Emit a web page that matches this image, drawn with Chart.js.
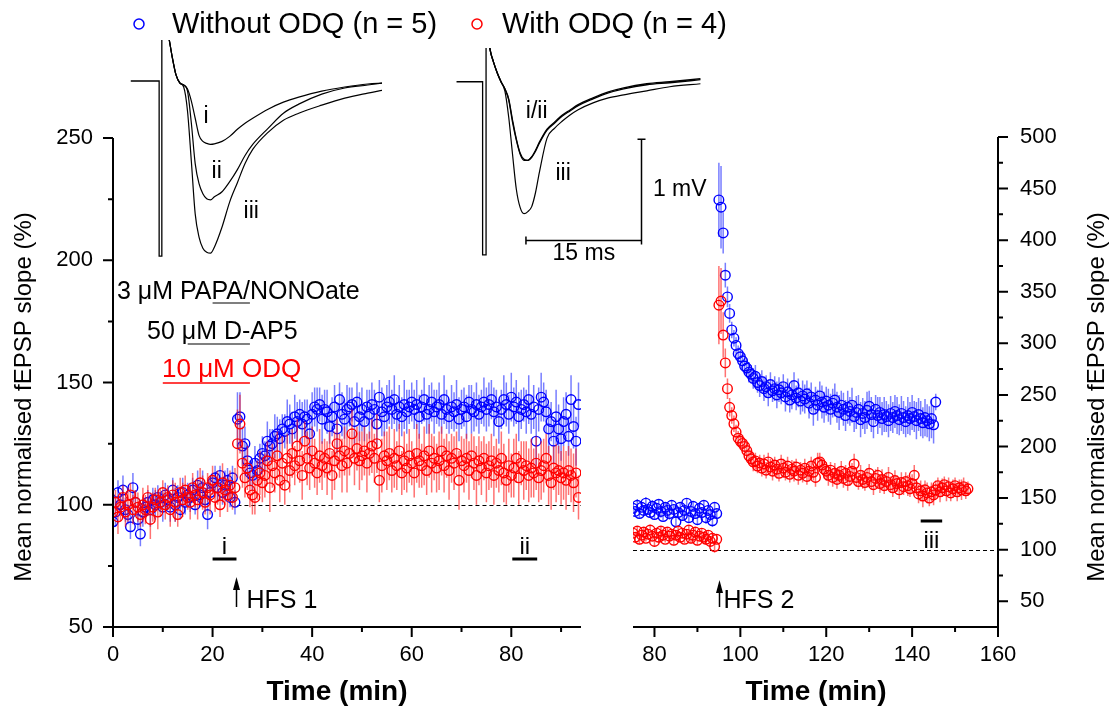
<!DOCTYPE html>
<html>
<head>
<meta charset="utf-8">
<title>fEPSP slope – PAPA/NONOate, D-AP5, ODQ</title>
<script src="https://cdn.jsdelivr.net/npm/chart.js@4.4.1/dist/chart.umd.min.js"></script>
<style>
  body { margin: 0; background: #fff; }
  #wrap { position: relative; width: 1117px; height: 708px; overflow: hidden; background: #fff; }
  #wrap canvas { position: absolute; }
</style>
</head>
<body>
<div id="wrap">
  <canvas id="leftChart" width="1117" height="708" style="left:0;top:0"></canvas>
  <canvas id="rightChart" width="1117" height="708" style="left:0;top:0"></canvas>
  <canvas id="inset1" width="252" height="220" style="left:130px;top:40px"></canvas>
  <canvas id="inset2" width="330" height="230" style="left:455px;top:48px"></canvas>
</div>
<script>
// ============================================================
// fEPSP slope time course with two HFS epochs + sample traces
// ============================================================

const FONT = "'Liberation Sans', Arial, Helvetica, sans-serif";
const BIN = 0.5; // min between averaged responses

const BLUE = '#0000ff';
const RED = '#ff0000';
const BLUE_ERR = 'rgba(30, 40, 255, 0.6)';
const RED_ERR = 'rgba(255, 20, 20, 0.6)';

// ---- first epoch (0–93.5 min), % of baseline ----
const leftStart = 0;
const blueLeft = [
  93, 97, 105, 100, 106, 98, 96, 91, 107, 101, 94,
  88, 97, 99, 101, 98, 102, 100, 103, 101, 99,
  104, 102, 99, 106, 100, 103, 98, 105, 101, 104,
  103, 106, 100, 108, 104, 107, 102, 96, 105, 109,
  111, 107, 112, 105, 108, 110, 103, 111, 101, 135,
  136, 124, 125, 118, 113, 112, 117, 114, 119, 121,
  120, 126, 124, 125, 128, 129, 127, 131, 130, 134,
  133, 131, 136, 134, 137, 133, 136, 135, 129, 137,
  140, 139, 141, 135, 139, 138, 132, 136, 140, 131,
  143, 137, 135, 139, 140, 141, 134, 142, 136, 139,
  134, 140, 137, 141, 139, 133, 144, 138, 136, 140,
  142, 139, 143, 137, 140, 136, 141, 138, 140, 142,
  139, 141, 136, 140, 143, 137, 139, 142, 138, 140,
  141, 137, 143, 139, 136, 140, 138, 141, 135, 139,
  140, 136, 142, 139, 138, 141, 137, 140, 142, 139,
  141, 143, 138, 140, 134, 139, 143, 141, 137, 144,
  140, 142, 136, 139, 141, 138, 143, 137, 140, 126,
  139, 144, 142, 138, 131, 134, 126, 136, 131, 127,
  134, 137, 128, 143, 132, 126, 141
];
const blueLeftErr = [
  5, 6, 5, 4, 6, 5, 4, 5, 6, 5, 4,
  5, 6, 4, 5, 7, 5, 6, 5, 4, 6,
  5, 4, 6, 5, 7, 5, 4, 6, 5, 5,
  6, 5, 4, 6, 5, 7, 5, 6, 5, 4,
  5, 6, 4, 5, 6, 5, 4, 5, 5, 11,
  10, 8, 7, 6, 5, 6, 7, 5, 6, 7,
  6, 8, 7, 6, 9, 7, 8, 6, 7, 9,
  8, 7, 9, 8, 6, 9, 7, 8, 10, 9,
  8, 9, 7, 10, 8, 9, 7, 8, 9, 10,
  7, 9, 8, 10, 8, 7, 9, 8, 10, 9,
  8, 7, 10, 9, 8, 9, 7, 10, 8, 9,
  9, 8, 10, 7, 9, 8, 10, 9, 7, 8,
  8, 10, 9, 7, 9, 8, 10, 8, 9, 7,
  9, 8, 10, 8, 7, 9, 8, 10, 9, 8,
  8, 9, 7, 10, 8, 9, 8, 7, 10, 9,
  9, 8, 10, 7, 9, 8, 10, 9, 8, 10,
  8, 9, 10, 8, 7, 9, 10, 8, 9, 10,
  9, 10, 8, 9, 10, 8, 9, 11, 10, 9,
  10, 9, 8, 10, 9, 10, 9
];
const redLeft = [
  97, 101, 95, 99, 103, 97, 100, 104, 98, 101, 99,
  96, 100, 98, 103, 94, 99, 102, 97, 101, 105,
  100, 103, 98, 104, 101, 96, 105, 102, 106, 103,
  101, 107, 104, 102, 109, 105, 101, 107, 104, 110,
  103, 107, 100, 109, 106, 104, 108, 103, 107, 125,
  133, 117, 111, 115, 106, 104, 103, 110, 113, 109,
  112, 118, 107, 116, 113, 120, 110, 117, 108, 119,
  114, 121, 116, 124, 118, 112, 126, 119, 115, 122,
  117, 113, 120, 116, 119, 115, 121, 112, 118, 125,
  120, 116, 122, 117, 121, 129, 119, 123, 118, 120,
  122, 117, 121, 124, 119, 125, 110, 116, 120, 118,
  121, 114, 119, 116, 122, 113, 118, 115, 120, 117,
  113, 121, 118, 116, 120, 114, 122, 117, 119, 115,
  118, 122, 116, 120, 114, 119, 117, 121, 110, 118,
  116, 119, 114, 120, 117, 112, 118, 115, 119, 113,
  116, 118, 112, 117, 114, 119, 113, 110, 116, 112,
  115, 119, 111, 117, 114, 116, 112, 115, 113, 117,
  111, 114, 116, 119, 112, 109, 115, 113, 114, 111,
  113, 110, 114, 112, 109, 113, 103
];
const redLeftErr = [
  6, 5, 7, 6, 5, 6, 7, 5, 6, 5, 6,
  5, 7, 6, 5, 8, 6, 5, 7, 6, 5,
  6, 5, 7, 6, 8, 5, 6, 7, 6, 5,
  7, 6, 5, 8, 6, 7, 5, 6, 8, 6,
  6, 7, 5, 8, 6, 7, 6, 5, 8, 14,
  12, 10, 8, 9, 7, 8, 7, 8, 9, 8,
  9, 8, 10, 9, 8, 10, 9, 11, 8, 10,
  9, 10, 8, 11, 9, 10, 8, 11, 9, 10,
  10, 9, 11, 10, 8, 11, 9, 10, 12, 10,
  9, 11, 10, 12, 9, 10, 11, 9, 12, 10,
  10, 12, 9, 11, 10, 12, 9, 11, 10, 12,
  11, 9, 12, 10, 11, 9, 12, 10, 11, 9,
  10, 12, 11, 9, 12, 10, 11, 12, 9, 10,
  12, 10, 11, 9, 12, 10, 11, 9, 12, 10,
  11, 10, 12, 9, 11, 12, 10, 11, 9, 12,
  10, 11, 12, 10, 9, 11, 12, 10, 11, 9,
  12, 10, 11, 9, 12, 10, 11, 12, 10, 11,
  10, 12, 11, 10, 12, 11, 9, 12, 10, 11,
  11, 12, 10, 11, 12, 10, 9
];

// ---- second epoch: pre-HFS 2 (75–94.5 min) and post-HFS 2 (from 95 min) ----
const preStart = 75;
const postStart = 95;
const bluePre = [
  140, 137, 143, 135, 141, 138, 145, 139, 136, 142,
  134, 140, 144, 137, 132, 141, 138, 135, 143, 139,
  127, 136, 141, 133, 138, 145, 131, 137, 142, 135,
  129, 140, 136, 143, 131, 138, 134, 128, 141, 135
];
const bluePreErr = [
  5, 4, 6, 5, 4, 5, 6, 4, 5, 6,
  5, 4, 5, 6, 4, 5, 4, 6, 5, 4,
  6, 5, 4, 5, 6, 4, 5, 6, 5, 4,
  5, 6, 4, 5, 6, 5, 4, 6, 5, 4
];
const redPre = [
  116, 112, 118, 110, 114, 117, 111, 115, 119, 113,
  108, 116, 112, 118, 114, 110, 117, 113, 115, 109,
  114, 118, 112, 116, 110, 115, 119, 111, 114, 117,
  109, 113, 116, 112, 110, 114, 108, 111, 103, 110
];
const redPreErr = [
  4, 5, 4, 5, 4, 5, 3, 4, 5, 4,
  5, 4, 5, 4, 5, 3, 4, 5, 4, 5,
  4, 5, 4, 5, 4, 5, 4, 5, 3, 4,
  5, 4, 5, 4, 5, 4, 5, 4, 6, 4
];
const bluePost = [
  439, 432, 407, 366, 345, 329, 313, 305, 298, 290,
  287, 283, 278, 276, 272, 270, 266, 268, 262, 259,
  263, 256, 258, 252, 260, 254, 256, 250, 255, 252,
  258, 248, 253, 245, 250, 259, 247, 252, 244, 249,
  246, 251, 242, 248, 236, 245, 240, 249, 243, 238,
  244, 240, 236, 242, 245, 238, 233, 240, 236, 230,
  238, 234, 240, 229, 233, 236, 226, 232, 228, 235,
  239, 231, 224, 236, 230, 233, 227, 231, 229, 225,
  232, 228, 234, 230, 226, 232, 228, 224, 230, 227,
  233, 229, 225, 231, 227, 223, 228, 225, 222, 227,
  221, 243
];
const bluePostErr = [
  36, 40, 20, 12, 10, 9, 8, 8, 8, 8,
  8, 9, 8, 9, 10, 9, 10, 11, 10, 11,
  11, 12, 11, 13, 12, 11, 12, 13, 12, 11,
  12, 14, 13, 12, 14, 13, 12, 14, 13, 15,
  14, 13, 15, 14, 16, 13, 15, 14, 16, 15,
  14, 16, 15, 14, 16, 15, 17, 14, 16, 15,
  16, 14, 17, 15, 16, 14, 17, 15, 16, 18,
  15, 17, 16, 14, 18, 15, 16, 17, 15, 16,
  17, 15, 16, 18, 15, 17, 16, 15, 18, 16,
  17, 15, 18, 16, 17, 15, 18, 16, 17, 19,
  18, 8
];
const redPost = [
  337, 341, 308, 281, 256, 238, 230, 222, 214, 208,
  205, 203, 200, 196, 191, 188, 185, 186, 181, 184,
  179, 183, 177, 185, 180, 176, 182, 178, 174, 183,
  179, 175, 181, 173, 178, 176, 180, 172, 177, 174,
  179, 171, 176, 181, 175, 170, 184, 185, 182, 178,
  176, 172, 177, 170, 174, 168, 172, 176, 169, 174,
  167, 171, 176, 183, 170, 166, 172, 168, 165, 170,
  174, 166, 163, 169, 172, 164, 168, 162, 166, 170,
  163, 160, 167, 164, 158, 165, 161, 166, 162, 159,
  164, 172, 160, 154, 157, 152, 158, 155, 150, 156,
  153, 158, 162, 156, 160, 163, 157, 161, 155, 159,
  162, 156, 160, 158, 161, 157, 159
];
const redPostErr = [
  38, 32, 22, 14, 10, 9, 8, 8, 7, 7,
  7, 8, 7, 8, 7, 8, 9, 8, 7, 8,
  8, 9, 8, 9, 8, 9, 8, 9, 8, 9,
  9, 8, 9, 8, 9, 10, 8, 9, 8, 9,
  9, 8, 10, 9, 8, 9, 10, 9, 8, 9,
  9, 10, 8, 9, 10, 9, 8, 10, 9, 8,
  10, 9, 8, 10, 9, 8, 10, 9, 8, 9,
  9, 8, 10, 9, 8, 9, 10, 8, 9, 10,
  8, 9, 10, 8, 9, 10, 8, 9, 10, 8,
  9, 10, 8, 9, 10, 11, 9, 10, 8, 9,
  10, 9, 8, 10, 9, 8, 10, 9, 8, 9,
  8, 9, 8, 10, 9, 8, 7
];

// ---- sample fEPSP traces (ms, mV) ----
const stim1Time = [0.1, 3.8, 3.8, 4.15, 4.15];
const stim1Val = [0, 0, -1.74, -1.74, 0.6];
const trace1Time = [4.15, 5.0, 5.5, 6.0, 6.5, 7.0, 7.5, 8.0, 8.5, 9.0, 9.5, 10.0, 10.5, 11, 12, 13, 14, 15, 16, 18, 20, 22, 25, 28, 31, 33];
const trace1i = [0.6, 0.45, 0.24, 0.06, -0.02, -0.04, -0.08, -0.2, -0.37, -0.54, -0.6, -0.62, -0.63, -0.625, -0.6, -0.55, -0.48, -0.42, -0.37, -0.28, -0.21, -0.16, -0.1, -0.06, -0.03, -0.02];
const trace1ii = [0.6, 0.45, 0.24, 0.06, -0.02, -0.04, -0.1, -0.42, -0.82, -1.02, -1.12, -1.17, -1.18, -1.15, -1.1, -1.0, -0.88, -0.74, -0.63, -0.47, -0.32, -0.23, -0.13, -0.07, -0.04, -0.02];
const trace1iii = [0.6, 0.45, 0.24, 0.06, -0.02, -0.06, -0.3, -0.8, -1.32, -1.55, -1.66, -1.7, -1.71, -1.65, -1.45, -1.2, -1.01, -0.82, -0.68, -0.51, -0.39, -0.32, -0.24, -0.17, -0.12, -0.09];

const stim2Time = [0.2, 3.6, 3.6, 4.05, 4.05];
const stim2Val = [0, 0, -1.72, -1.72, 0.6];
const trace2Time = [4.05, 4.6, 5.0, 5.5, 6.0, 6.5, 7.0, 7.5, 8.0, 8.5, 9.0, 9.5, 10, 10.5, 11, 12, 13, 14, 15, 16, 18, 20, 22, 25, 28, 32];
const trace2i = [0.6, 0.31, 0.2, 0.09, 0.0, -0.07, -0.18, -0.4, -0.58, -0.72, -0.78, -0.78, -0.745, -0.68, -0.6, -0.47, -0.4, -0.33, -0.28, -0.23, -0.16, -0.1, -0.06, -0.02, 0.0, 0.03];
const trace2ii = [0.6, 0.31, 0.2, 0.09, 0.0, -0.07, -0.17, -0.38, -0.57, -0.71, -0.77, -0.78, -0.75, -0.69, -0.61, -0.48, -0.41, -0.34, -0.29, -0.24, -0.17, -0.11, -0.07, -0.03, -0.01, 0.02];
const trace2iii = [0.6, 0.31, 0.2, 0.09, 0.0, -0.09, -0.35, -0.72, -1.07, -1.25, -1.31, -1.29, -1.24, -1.1, -0.9, -0.56, -0.46, -0.39, -0.33, -0.28, -0.21, -0.16, -0.13, -0.09, -0.05, -0.02];

// ------------------------------------------------------------
// helpers
// ------------------------------------------------------------
function binned(start, values) {
  return values.map((v, i) => ({ x: start + i * BIN, y: v }));
}

function pairs(xs, ys) {
  return xs.map((x, i) => ({ x, y: ys[i] }));
}

function pointSet(data, errors, color, errColor) {
  return {
    data, errors, errColor,
    borderColor: color,
    backgroundColor: 'rgba(0,0,0,0)',
    pointStyle: 'circle',
    pointRadius: 4.8,
    pointBorderWidth: 1.4,
    showLine: false,
  };
}

// vertical SEM bars, drawn just before each dataset's own markers
const errorBars = {
  id: 'errorBars',
  beforeDatasetDraw(chart, args) {
    const ds = chart.data.datasets[args.index];
    if (!ds.errors) return;
    const yScale = chart.scales[args.meta.yAxisID];
    const { ctx, chartArea: a } = chart;
    ctx.save();
    ctx.beginPath();
    ctx.rect(a.left, a.top, a.right - a.left, a.bottom - a.top);
    ctx.clip();
    ctx.strokeStyle = ds.errColor;
    ctx.lineWidth = 1.5;
    ctx.beginPath();
    args.meta.data.forEach((pt, i) => {
      const v = ds.data[i].y, e = ds.errors[i] || 0;
      ctx.moveTo(pt.x, yScale.getPixelForValue(v + e));
      ctx.lineTo(pt.x, yScale.getPixelForValue(v - e));
    });
    ctx.stroke();
    ctx.restore();
  }
};

// axis lines plus major / minor tick marks
const axisFrame = {
  id: 'axisFrame',
  afterDraw(chart, args, o) {
    const { ctx, chartArea: a } = chart;
    const xs = chart.scales.x, ys = chart.scales.y;
    const yEdge = o.ySide === 'left' ? a.left : a.right;
    const dir = o.ySide === 'left' ? -1 : 1;
    ctx.save();
    ctx.strokeStyle = '#000';
    ctx.lineWidth = 2;
    ctx.beginPath();
    ctx.moveTo(a.left - (o.ySide === 'left' ? 1 : 0), a.bottom);
    ctx.lineTo(a.right + (o.ySide === 'right' ? 1 : 0), a.bottom);
    ctx.moveTo(yEdge, a.top);
    ctx.lineTo(yEdge, a.bottom);
    for (let v = o.xFirst, k = 0; v <= xs.max + 1e-6; v += o.xStep / 2, k++) {
      const px = xs.getPixelForValue(v);
      ctx.moveTo(px, a.bottom);
      ctx.lineTo(px, a.bottom + (k % 2 === 0 ? 10 : 5));
    }
    for (let v = o.yFirst, k = 0; v <= ys.max + 1e-6; v += o.yStep / 2, k++) {
      const py = ys.getPixelForValue(v);
      ctx.moveTo(yEdge, py);
      ctx.lineTo(yEdge + dir * (k % 2 === 0 ? 10 : 5), py);
    }
    ctx.stroke();
    ctx.restore();
  }
};

function rotatedTitle(ctx, text, x, y) {
  ctx.save();
  ctx.translate(x, y);
  ctx.rotate(-Math.PI / 2);
  ctx.textAlign = 'center';
  ctx.textBaseline = 'middle';
  ctx.font = '24px ' + FONT;
  ctx.fillStyle = '#000';
  ctx.fillText(text, 0, 0);
  ctx.restore();
}

function arrowUp(ctx, x, yBottom, yTip) {
  ctx.save();
  ctx.strokeStyle = '#000';
  ctx.fillStyle = '#000';
  ctx.lineWidth = 1.5;
  ctx.beginPath();
  ctx.moveTo(x, yBottom);
  ctx.lineTo(x, yTip + 8);
  ctx.stroke();
  ctx.beginPath();
  ctx.moveTo(x, yTip);
  ctx.lineTo(x - 3.5, yTip + 13);
  ctx.lineTo(x + 3.5, yTip + 13);
  ctx.closePath();
  ctx.fill();
  ctx.restore();
}

function periodBar(ctx, xs, from, to, y, label, labelY) {
  ctx.save();
  ctx.fillStyle = '#000';
  ctx.fillRect(xs.getPixelForValue(from), y - 1.5, xs.getPixelForValue(to) - xs.getPixelForValue(from), 3);
  ctx.font = '24px ' + FONT;
  ctx.textAlign = 'center';
  ctx.textBaseline = 'middle';
  ctx.fillText(label, xs.getPixelForValue((from + to) / 2), labelY);
  ctx.restore();
}

function dashed100(ctx, xs, ys, fromT, toT) {
  ctx.save();
  ctx.strokeStyle = '#000';
  ctx.lineWidth = 1;
  ctx.setLineDash([4, 3]);
  const y = Math.round(ys.getPixelForValue(100)) + 0.5;
  ctx.beginPath();
  ctx.moveTo(xs.getPixelForValue(fromT), y);
  ctx.lineTo(xs.getPixelForValue(toT), y);
  ctx.stroke();
  ctx.restore();
}

const Y_TITLE = 'Mean normalised fEPSP slope (%)';

// ------------------------------------------------------------
// first epoch: legend, drug bars, HFS 1
// ------------------------------------------------------------
const leftDecor = {
  id: 'leftDecor',
  beforeDatasetsDraw(chart) {
    dashed100(chart.ctx, chart.scales.x, chart.scales.y, 25, chart.scales.x.max);
  },
  afterDraw(chart) {
    const { ctx } = chart;
    const xs = chart.scales.x;
    ctx.save();

    // legend
    ctx.lineWidth = 1.5;
    ctx.font = '29px ' + FONT;
    ctx.textBaseline = 'middle';
    ctx.textAlign = 'left';
    [[139, BLUE, 'Without ODQ (n = 5)', 172], [477, RED, 'With ODQ (n = 4)', 502]].forEach(([cx, c, t, tx]) => {
      ctx.strokeStyle = c;
      ctx.beginPath();
      ctx.arc(cx, 24, 5, 0, Math.PI * 2);
      ctx.stroke();
      ctx.fillStyle = '#000';
      ctx.fillText(t, tx, 25);
    });

    // drug application bars
    ctx.font = '25px ' + FONT;
    ctx.fillStyle = '#000';
    ctx.fillText('3 \u03BCM PAPA/NONOate', 117, 292);
    ctx.fillText('50 \u03BCM D-AP5', 147, 332);
    ctx.fillStyle = RED;
    ctx.font = '26px ' + FONT;
    ctx.fillText('10 \u03BCM ODQ', 162, 370);
    ctx.lineWidth = 1.5;
    [[20, 303, '#555'], [15, 344, '#555'], [10, 383, RED]].forEach(([t0, y, c]) => {
      ctx.strokeStyle = c;
      ctx.beginPath();
      ctx.moveTo(xs.getPixelForValue(t0), y);
      ctx.lineTo(xs.getPixelForValue(27.5), y);
      ctx.stroke();
    });

    // sampling windows for traces
    periodBar(ctx, xs, 20, 24.8, 559, 'i', 547);
    periodBar(ctx, xs, 80.2, 85.2, 559, 'ii', 547);

    // first tetanus
    const hx = Math.round(xs.getPixelForValue(24.8)) + 0.5;
    arrowUp(ctx, hx, 607, 577);
    ctx.fillStyle = '#000';
    ctx.font = '25px ' + FONT;
    ctx.textAlign = 'left';
    ctx.fillText('HFS 1', hx + 10, 601);

    // axis titles
    rotatedTitle(ctx, Y_TITLE, 24, 397);
    ctx.font = 'bold 28px ' + FONT;
    ctx.textAlign = 'center';
    ctx.fillText('Time (min)', 337, 692);
    ctx.restore();
  }
};

// ------------------------------------------------------------
// second epoch: HFS 2 and window iii
// ------------------------------------------------------------
const rightDecor = {
  id: 'rightDecor',
  beforeDatasetsDraw(chart) {
    dashed100(chart.ctx, chart.scales.x, chart.scales.y, chart.scales.x.min, chart.scales.x.max);
  },
  afterDraw(chart) {
    const { ctx } = chart;
    const xs = chart.scales.x;
    ctx.save();
    periodBar(ctx, xs, 142, 147, 521, 'iii', 541);

    const hx = Math.round(xs.getPixelForValue(95)) + 0.5;
    arrowUp(ctx, hx, 607, 580);
    ctx.fillStyle = '#000';
    ctx.font = '25px ' + FONT;
    ctx.textAlign = 'left';
    ctx.textBaseline = 'middle';
    ctx.fillText('HFS 2', hx + 4, 601);

    rotatedTitle(ctx, Y_TITLE, 1097, 397);
    ctx.font = 'bold 28px ' + FONT;
    ctx.textAlign = 'center';
    ctx.fillText('Time (min)', 816, 692);
    ctx.restore();
  }
};

function tickFont() {
  return { size: 22, family: FONT };
}

// ------------------------------------------------------------
// charts
// ------------------------------------------------------------
new Chart(document.getElementById('leftChart'), {
  type: 'scatter',
  data: {
    datasets: [
      pointSet(binned(leftStart, redLeft), redLeftErr, RED, RED_ERR),
      pointSet(binned(leftStart, blueLeft), blueLeftErr, BLUE, BLUE_ERR),
    ]
  },
  options: {
    responsive: false,
    animation: false,
    events: [],
    layout: { padding: { left: 0, top: 138, right: 1117 - 581, bottom: 0 } },
    plugins: {
      legend: { display: false },
      tooltip: { enabled: false },
      axisFrame: { ySide: 'left', xFirst: 0, xStep: 20, yFirst: 50, yStep: 50 },
    },
    scales: {
      x: {
        type: 'linear', min: 0, max: 94,
        afterFit: (s) => { s.height = 81; },
        grid: { display: false, drawTicks: false },
        border: { display: false },
        ticks: {
          stepSize: 20, autoSkip: false, maxRotation: 0, padding: 15, includeBounds: false,
          color: '#000', font: tickFont(),
          callback: (v) => (v % 20 === 0 && v <= 80 ? v : ''),
        },
      },
      y: {
        min: 50, max: 250,
        afterFit: (s) => { s.width = 113; },
        grid: { display: false, drawTicks: false },
        border: { display: false },
        ticks: {
          stepSize: 50, padding: 20, color: '#000', font: tickFont(),
          callback: (v) => (v % 50 === 0 ? v : ''),
        },
      },
    },
  },
  plugins: [errorBars, axisFrame, leftDecor],
});

new Chart(document.getElementById('rightChart'), {
  type: 'scatter',
  data: {
    datasets: [
      pointSet(binned(preStart, redPre).concat(binned(postStart, redPost)),
               redPreErr.concat(redPostErr), RED, RED_ERR),
      pointSet(binned(preStart, bluePre).concat(binned(postStart, bluePost)),
               bluePreErr.concat(bluePostErr), BLUE, BLUE_ERR),
    ]
  },
  options: {
    responsive: false,
    animation: false,
    events: [],
    layout: { padding: { left: 633, top: 137, right: 0, bottom: 0 } },
    plugins: {
      legend: { display: false },
      tooltip: { enabled: false },
      axisFrame: { ySide: 'right', xFirst: 80, xStep: 20, yFirst: 50, yStep: 50 },
    },
    scales: {
      x: {
        type: 'linear', min: 75, max: 160,
        afterFit: (s) => { s.height = 81; },
        grid: { display: false, drawTicks: false },
        border: { display: false },
        ticks: {
          stepSize: 20, autoSkip: false, maxRotation: 0, padding: 15, includeBounds: false,
          color: '#000', font: tickFont(),
          callback: (v) => (v % 20 === 0 ? v : ''),
        },
      },
      y: {
        position: 'right',
        min: 25, max: 500,
        afterFit: (s) => { s.width = 1117 - 998; },
        grid: { display: false, drawTicks: false },
        border: { display: false },
        ticks: {
          stepSize: 50, padding: 22, includeBounds: false, color: '#000', font: tickFont(),
          callback: (v) => (v % 50 === 0 ? v : ''),
        },
      },
    },
  },
  plugins: [errorBars, axisFrame, rightDecor],
});

// ------------------------------------------------------------
// sample traces
// ------------------------------------------------------------
function traceSet(data, width) {
  return {
    data,
    showLine: true,
    borderColor: '#000',
    borderWidth: width,
    pointRadius: 0,
    cubicInterpolationMode: 'monotone',
  };
}

function drawLabels(chart, labels) {
  const { ctx } = chart;
  const xs = chart.scales.x, ys = chart.scales.y;
  ctx.save();
  ctx.fillStyle = '#000';
  ctx.textBaseline = 'middle';
  labels.forEach(([text, t, v, align]) => {
    ctx.font = '23px ' + FONT;
    ctx.textAlign = align || 'center';
    ctx.fillText(text, xs.getPixelForValue(t), ys.getPixelForValue(v));
  });
  ctx.restore();
}

function insetChart(id, xMax, yMin, yMax, padBottom, datasets, decor) {
  return new Chart(document.getElementById(id), {
    type: 'scatter',
    data: { datasets },
    options: {
      responsive: false,
      animation: false,
      events: [],
      layout: { padding: { left: 0, top: 0, right: 0, bottom: padBottom } },
      plugins: { legend: { display: false }, tooltip: { enabled: false } },
      scales: {
        x: { type: 'linear', display: false, min: 0, max: xMax },
        y: { display: false, min: yMin, max: yMax },
      },
    },
    plugins: [decor],
  });
}

insetChart('inset1', 252 / 7.67, 0.407 - 220 / 100.7, 0.407, 0, [
  traceSet(pairs(stim1Time, stim1Val), 1.3),
  traceSet(pairs(trace1Time, trace1i), 1.2),
  traceSet(pairs(trace1Time, trace1ii), 1.2),
  traceSet(pairs(trace1Time, trace1iii), 1.2),
], {
  id: 'inset1Labels',
  afterDraw(chart) {
    drawLabels(chart, [['i', 9.9, -0.355], ['ii', 11.3, -0.9], ['iii', 15.8, -1.3]]);
  }
});

insetChart('inset2', 330 / 7.67, 0.335 - 212 / 100.7, 0.335, 18, [
  traceSet(pairs(stim2Time, stim2Val), 1.3),
  traceSet(pairs(trace2Time, trace2i), 1.3),
  traceSet(pairs(trace2Time, trace2ii), 1.3),
  traceSet(pairs(trace2Time, trace2iii), 1.2),
], {
  id: 'inset2Labels',
  afterDraw(chart) {
    const { ctx } = chart;
    const xs = chart.scales.x, ys = chart.scales.y;
    // 15 ms / 1 mV calibration
    const barT = 24.25, barV = -1.572;
    const px = Math.round(xs.getPixelForValue(barT)) + 0.5;
    const pyBottom = Math.round(ys.getPixelForValue(barV)) + 0.5;
    const pyTop = ys.getPixelForValue(barV + 1);
    const pxLeft = xs.getPixelForValue(barT - 15);
    ctx.save();
    ctx.strokeStyle = '#000';
    ctx.lineWidth = 1.5;
    ctx.beginPath();
    ctx.moveTo(px, pyTop);
    ctx.lineTo(px, pyBottom);
    ctx.lineTo(pxLeft, pyBottom);
    ctx.moveTo(px - 4, pyTop);
    ctx.lineTo(px + 4, pyTop);
    ctx.moveTo(pxLeft, pyBottom - 4);
    ctx.lineTo(pxLeft, pyBottom + 4);
    ctx.moveTo(px, pyBottom - 4);
    ctx.lineTo(px, pyBottom + 4);
    ctx.stroke();
    ctx.restore();
    drawLabels(chart, [
      ['i/ii', 10.65, -0.3], ['iii', 14.1, -0.91],
      ['1 mV', 25.8, -1.075, 'left'], ['15 ms', 16.8, -1.71],
    ]);
  }
});
</script>
</body>
</html>
